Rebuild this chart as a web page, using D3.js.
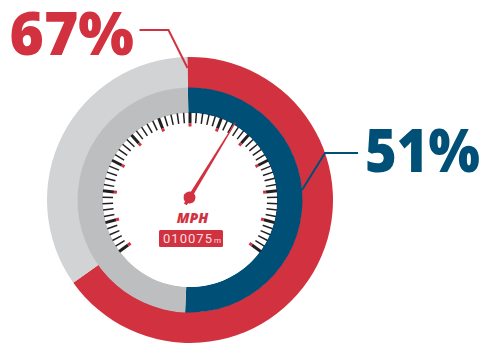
<!DOCTYPE html>
<html><head><meta charset="utf-8">
<script src="https://cdn.jsdelivr.net/npm/d3@7"></script>
<style>html,body{margin:0;padding:0;background:#fff;overflow:hidden}svg{display:block}</style>
</head><body><svg id="c" width="482" height="346"></svg>
<script>
const outerLabel = "67%";
const innerLabel = "51%";
const outerShare = [0.655, 0.345];
const innerShare = [0.51, 0.49];
const speedMajor = [0,10,20,30,40,50,60,70,80,90,100,110,120];
const speedMinor = [2,4,6,8];
const needleSpeed = 75;
const odometer = "010075";
const odometerUnit = "m";
const unitLabel = "MPH";
const RED="#d2323f", BLUE="#004f76", LIGHT="#d1d3d4", MID="#bcbec0", INK="#231f20";

const svg = d3.select("#c");
const g = svg.append("g").attr("transform","translate(190,200)");
const tilt = -1.1*Math.PI/180;
const pie = d3.pie().sort(null).startAngle(tilt).endAngle(2*Math.PI+tilt);
const ring = (vals, r0, r1, cols) => g.append("g").selectAll("path").data(pie(vals)).join("path")
  .attr("d", d3.arc().innerRadius(r0).outerRadius(r1)).attr("fill",(d,i)=>cols[i]);
ring(outerShare,112,143,[RED,LIGHT]);
ring(innerShare,87,112.5,[BLUE,MID]);
g.append("circle").attr("r",87).attr("fill","#fff");

const angle = d3.scaleLinear().domain([0,120]).range([-126,126]);
const minors = speedMajor.slice(0,-1).flatMap(m=>speedMinor.map(s=>m+s));
const ticks = g.append("g");
ticks.selectAll("line.min").data(minors).join("line").attr("class","min")
  .attr("transform",d=>`rotate(${angle(d)})`).attr("y1",-87.5).attr("y2",-77)
  .attr("stroke",INK).attr("stroke-width",1.5);
ticks.selectAll("line.maj").data(speedMajor).join("line").attr("class","maj")
  .attr("transform",d=>`rotate(${angle(d)})`).attr("y1",-87.5).attr("y2",-76.5)
  .attr("stroke",INK).attr("stroke-width",3);
ticks.selectAll("line.dot").data(speedMajor).join("line").attr("class","dot")
  .attr("transform",d=>`rotate(${angle(d)})`).attr("y1",-76.5).attr("y2",-73.5)
  .attr("stroke",RED).attr("stroke-width",3);

// needle
const hub = g.append("g").attr("transform",`translate(-0.5,-2.5) rotate(${angle(needleSpeed)})`);
hub.append("path").attr("d","M-2,0 L-0.5,-88 L0.5,-88 L2,0 L1.6,8 L-1.6,8 Z").attr("fill",RED);
hub.append("circle").attr("r",6).attr("fill",RED);

// dial text
g.append("text").attr("x",-13.3).attr("y",22.7)
  .attr("font-family","'Open Sans'").attr("font-weight",800).attr("font-style","italic")
  .attr("font-size",13.3).attr("textLength",31.5).attr("lengthAdjust","spacingAndGlyphs").attr("fill",RED).text(unitLabel);
g.append("rect").attr("x",-31).attr("y",30).attr("width",64).attr("height",17).attr("rx",1.5).attr("fill",RED);
g.append("text").attr("x",-27).attr("y",43).attr("font-family","Roboto").attr("font-weight",400)
  .attr("font-size",13).attr("textLength",49).attr("lengthAdjust","spacing").attr("fill","#f8dfe1").text(odometer);
g.append("text").attr("x",24).attr("y",43).attr("font-family","Roboto").attr("font-weight",400)
  .attr("font-size",8).attr("fill","#f8dfe1").text(odometerUnit);

// leaders
const line = d3.line();
svg.append("path").attr("d",line([[139.5,30],[168.5,30],[187.5,68]])).attr("fill","none").attr("stroke",RED).attr("stroke-width",2);
svg.append("path").attr("d",line([[358,153],[325,153],[302,190]])).attr("fill","none").attr("stroke",BLUE).attr("stroke-width",2);

// big labels: fitted horizontally with a transform so the text box stays inside the page
const big = (x,y,c,t,w)=>{
  const n = svg.append("text").attr("font-family","'Open Sans'")
    .attr("font-weight",800).attr("font-size",60).attr("fill",c).text(t);
  n.attr("transform",`translate(${x},${y}) scale(${w/n.node().getComputedTextLength()},1)`);
};
big(9.5,54.5,RED,outerLabel,124.5);
big(365,172,BLUE,innerLabel,115);
</script></body></html>
